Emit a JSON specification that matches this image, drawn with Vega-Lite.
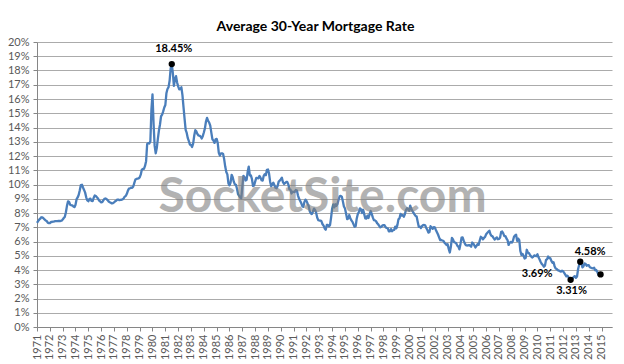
{
  "$schema": "https://vega.github.io/schema/vega-lite/v6.json",
  "width": 575,
  "height": 285,
  "autosize": {"type": "none"},
  "padding": {"left": 37, "top": 42, "right": 12, "bottom": 37},
  "background": "white",
  "config": {
    "view": {"stroke": null},
    "font": "Lato"
  },
  "title": {
    "text": "Average 30-Year Mortgage Rate",
    "font": "Lato",
    "fontSize": 14,
    "fontWeight": "bold",
    "color": "#000000",
    "anchor": "middle",
    "baseline": "alphabetic",
    "dx": -9,
    "dy": 9,
    "offset": 0
  },
  "datasets": {
    "rates": [
      {"t":1971.292,"r":7.31},{"t":1971.375,"r":7.43},{"t":1971.458,"r":7.53},{"t":1971.542,"r":7.60},{"t":1971.625,"r":7.70},{"t":1971.708,"r":7.69},{"t":1971.792,"r":7.63},{"t":1971.875,"r":7.55},{"t":1971.958,"r":7.48},
      {"t":1972.042,"r":7.44},{"t":1972.125,"r":7.32},{"t":1972.208,"r":7.29},{"t":1972.292,"r":7.29},{"t":1972.375,"r":7.37},{"t":1972.458,"r":7.37},{"t":1972.542,"r":7.40},{"t":1972.625,"r":7.40},{"t":1972.708,"r":7.43},{"t":1972.792,"r":7.43},{"t":1972.875,"r":7.43},{"t":1972.958,"r":7.44},
      {"t":1973.042,"r":7.44},{"t":1973.125,"r":7.44},{"t":1973.208,"r":7.46},{"t":1973.292,"r":7.54},{"t":1973.375,"r":7.65},{"t":1973.458,"r":7.73},{"t":1973.542,"r":8.05},{"t":1973.625,"r":8.50},{"t":1973.708,"r":8.82},{"t":1973.792,"r":8.77},{"t":1973.875,"r":8.58},{"t":1973.958,"r":8.54},
      {"t":1974.042,"r":8.54},{"t":1974.125,"r":8.46},{"t":1974.208,"r":8.41},{"t":1974.292,"r":8.58},{"t":1974.375,"r":8.97},{"t":1974.458,"r":9.09},{"t":1974.542,"r":9.28},{"t":1974.625,"r":9.59},{"t":1974.708,"r":9.96},{"t":1974.792,"r":9.98},{"t":1974.875,"r":9.79},{"t":1974.958,"r":9.62},
      {"t":1975.042,"r":9.43},{"t":1975.125,"r":9.10},{"t":1975.208,"r":8.89},{"t":1975.292,"r":8.83},{"t":1975.375,"r":8.99},{"t":1975.458,"r":9.00},{"t":1975.542,"r":8.85},{"t":1975.625,"r":8.84},{"t":1975.708,"r":9.07},{"t":1975.792,"r":9.23},{"t":1975.875,"r":9.19},{"t":1975.958,"r":9.11},
      {"t":1976.042,"r":9.02},{"t":1976.125,"r":8.87},{"t":1976.208,"r":8.82},{"t":1976.292,"r":8.75},{"t":1976.375,"r":8.76},{"t":1976.458,"r":8.88},{"t":1976.542,"r":8.99},{"t":1976.625,"r":9.02},{"t":1976.708,"r":8.98},{"t":1976.792,"r":8.91},{"t":1976.875,"r":8.81},{"t":1976.958,"r":8.76},
      {"t":1977.042,"r":8.72},{"t":1977.125,"r":8.67},{"t":1977.208,"r":8.69},{"t":1977.292,"r":8.75},{"t":1977.375,"r":8.82},{"t":1977.458,"r":8.86},{"t":1977.542,"r":8.94},{"t":1977.625,"r":8.94},{"t":1977.708,"r":8.90},{"t":1977.792,"r":8.92},{"t":1977.875,"r":8.93},{"t":1977.958,"r":8.96},
      {"t":1978.042,"r":9.02},{"t":1978.125,"r":9.15},{"t":1978.208,"r":9.20},{"t":1978.292,"r":9.35},{"t":1978.375,"r":9.57},{"t":1978.458,"r":9.71},{"t":1978.542,"r":9.74},{"t":1978.625,"r":9.78},{"t":1978.708,"r":9.76},{"t":1978.792,"r":9.86},{"t":1978.875,"r":10.11},{"t":1978.958,"r":10.35},
      {"t":1979.042,"r":10.39},{"t":1979.125,"r":10.41},{"t":1979.208,"r":10.43},{"t":1979.292,"r":10.50},{"t":1979.375,"r":10.69},{"t":1979.458,"r":11.04},{"t":1979.542,"r":11.09},{"t":1979.625,"r":11.09},{"t":1979.708,"r":11.30},{"t":1979.792,"r":11.64},{"t":1979.875,"r":12.83},{"t":1979.958,"r":12.90},
      {"t":1980.042,"r":12.88},{"t":1980.125,"r":13.04},{"t":1980.208,"r":15.28},{"t":1980.292,"r":16.32},{"t":1980.375,"r":14.26},{"t":1980.458,"r":12.71},{"t":1980.542,"r":12.19},{"t":1980.625,"r":12.56},{"t":1980.708,"r":13.20},{"t":1980.792,"r":13.79},{"t":1980.875,"r":14.21},{"t":1980.958,"r":14.79},
      {"t":1981.042,"r":14.90},{"t":1981.125,"r":15.13},{"t":1981.208,"r":15.40},{"t":1981.292,"r":15.58},{"t":1981.375,"r":16.40},{"t":1981.458,"r":16.70},{"t":1981.542,"r":16.83},{"t":1981.625,"r":17.28},{"t":1981.708,"r":18.16},{"t":1981.792,"r":18.45},{"t":1981.875,"r":17.83},{"t":1981.958,"r":16.92},
      {"t":1982.042,"r":17.40},{"t":1982.125,"r":17.60},{"t":1982.208,"r":17.16},{"t":1982.292,"r":16.89},{"t":1982.375,"r":16.68},{"t":1982.458,"r":16.70},{"t":1982.542,"r":16.82},{"t":1982.625,"r":16.27},{"t":1982.708,"r":15.43},{"t":1982.792,"r":14.61},{"t":1982.875,"r":13.83},{"t":1982.958,"r":13.62},
      {"t":1983.042,"r":13.25},{"t":1983.125,"r":13.04},{"t":1983.208,"r":12.80},{"t":1983.292,"r":12.78},{"t":1983.375,"r":12.63},{"t":1983.458,"r":12.87},{"t":1983.542,"r":13.42},{"t":1983.625,"r":13.81},{"t":1983.708,"r":13.73},{"t":1983.792,"r":13.54},{"t":1983.875,"r":13.44},{"t":1983.958,"r":13.42},
      {"t":1984.042,"r":13.37},{"t":1984.125,"r":13.23},{"t":1984.208,"r":13.39},{"t":1984.292,"r":13.65},{"t":1984.375,"r":13.94},{"t":1984.458,"r":14.42},{"t":1984.542,"r":14.67},{"t":1984.625,"r":14.47},{"t":1984.708,"r":14.35},{"t":1984.792,"r":14.13},{"t":1984.875,"r":13.64},{"t":1984.958,"r":13.18},
      {"t":1985.042,"r":13.08},{"t":1985.125,"r":12.92},{"t":1985.208,"r":13.17},{"t":1985.292,"r":13.20},{"t":1985.375,"r":12.91},{"t":1985.458,"r":12.22},{"t":1985.542,"r":12.03},{"t":1985.625,"r":12.19},{"t":1985.708,"r":12.19},{"t":1985.792,"r":12.14},{"t":1985.875,"r":11.78},{"t":1985.958,"r":11.26},
      {"t":1986.042,"r":10.88},{"t":1986.125,"r":10.71},{"t":1986.208,"r":10.08},{"t":1986.292,"r":9.94},{"t":1986.375,"r":10.14},{"t":1986.458,"r":10.68},{"t":1986.542,"r":10.51},{"t":1986.625,"r":10.20},{"t":1986.708,"r":10.01},{"t":1986.792,"r":9.98},{"t":1986.875,"r":9.70},{"t":1986.958,"r":9.32},
      {"t":1987.042,"r":9.20},{"t":1987.125,"r":9.08},{"t":1987.208,"r":9.04},{"t":1987.292,"r":9.83},{"t":1987.375,"r":10.60},{"t":1987.458,"r":10.54},{"t":1987.542,"r":10.28},{"t":1987.625,"r":10.33},{"t":1987.708,"r":10.89},{"t":1987.792,"r":11.26},{"t":1987.875,"r":10.65},{"t":1987.958,"r":10.64},
      {"t":1988.042,"r":10.38},{"t":1988.125,"r":9.89},{"t":1988.208,"r":9.93},{"t":1988.292,"r":10.20},{"t":1988.375,"r":10.46},{"t":1988.458,"r":10.46},{"t":1988.542,"r":10.43},{"t":1988.625,"r":10.60},{"t":1988.708,"r":10.48},{"t":1988.792,"r":10.30},{"t":1988.875,"r":10.27},{"t":1988.958,"r":10.61},
      {"t":1989.042,"r":10.73},{"t":1989.125,"r":10.65},{"t":1989.208,"r":11.03},{"t":1989.292,"r":11.05},{"t":1989.375,"r":10.77},{"t":1989.458,"r":10.20},{"t":1989.542,"r":9.88},{"t":1989.625,"r":9.99},{"t":1989.708,"r":10.13},{"t":1989.792,"r":9.95},{"t":1989.875,"r":9.77},{"t":1989.958,"r":9.74},
      {"t":1990.042,"r":9.90},{"t":1990.125,"r":10.20},{"t":1990.208,"r":10.27},{"t":1990.292,"r":10.37},{"t":1990.375,"r":10.48},{"t":1990.458,"r":10.16},{"t":1990.542,"r":10.04},{"t":1990.625,"r":10.10},{"t":1990.708,"r":10.18},{"t":1990.792,"r":10.18},{"t":1990.875,"r":10.01},{"t":1990.958,"r":9.67},
      {"t":1991.042,"r":9.64},{"t":1991.125,"r":9.37},{"t":1991.208,"r":9.50},{"t":1991.292,"r":9.49},{"t":1991.375,"r":9.47},{"t":1991.458,"r":9.62},{"t":1991.542,"r":9.58},{"t":1991.625,"r":9.24},{"t":1991.708,"r":9.01},{"t":1991.792,"r":8.86},{"t":1991.875,"r":8.71},{"t":1991.958,"r":8.50},
      {"t":1992.042,"r":8.43},{"t":1992.125,"r":8.76},{"t":1992.208,"r":8.94},{"t":1992.292,"r":8.85},{"t":1992.375,"r":8.67},{"t":1992.458,"r":8.51},{"t":1992.542,"r":8.13},{"t":1992.625,"r":7.98},{"t":1992.708,"r":7.92},{"t":1992.792,"r":8.09},{"t":1992.875,"r":8.31},{"t":1992.958,"r":8.22},
      {"t":1993.042,"r":8.02},{"t":1993.125,"r":7.68},{"t":1993.208,"r":7.50},{"t":1993.292,"r":7.47},{"t":1993.375,"r":7.47},{"t":1993.458,"r":7.42},{"t":1993.542,"r":7.21},{"t":1993.625,"r":7.11},{"t":1993.708,"r":6.92},{"t":1993.792,"r":6.83},{"t":1993.875,"r":7.16},{"t":1993.958,"r":7.17},
      {"t":1994.042,"r":7.06},{"t":1994.125,"r":7.15},{"t":1994.208,"r":7.68},{"t":1994.292,"r":8.32},{"t":1994.375,"r":8.60},{"t":1994.458,"r":8.40},{"t":1994.542,"r":8.61},{"t":1994.625,"r":8.51},{"t":1994.708,"r":8.64},{"t":1994.792,"r":8.93},{"t":1994.875,"r":9.17},{"t":1994.958,"r":9.20},
      {"t":1995.042,"r":9.15},{"t":1995.125,"r":8.83},{"t":1995.208,"r":8.46},{"t":1995.292,"r":8.32},{"t":1995.375,"r":7.96},{"t":1995.458,"r":7.57},{"t":1995.542,"r":7.61},{"t":1995.625,"r":7.86},{"t":1995.708,"r":7.64},{"t":1995.792,"r":7.48},{"t":1995.875,"r":7.38},{"t":1995.958,"r":7.20},
      {"t":1996.042,"r":7.03},{"t":1996.125,"r":7.08},{"t":1996.208,"r":7.62},{"t":1996.292,"r":7.93},{"t":1996.375,"r":8.07},{"t":1996.458,"r":8.32},{"t":1996.542,"r":8.25},{"t":1996.625,"r":8.00},{"t":1996.708,"r":8.23},{"t":1996.792,"r":7.92},{"t":1996.875,"r":7.62},{"t":1996.958,"r":7.60},
      {"t":1997.042,"r":7.82},{"t":1997.125,"r":7.65},{"t":1997.208,"r":7.90},{"t":1997.292,"r":8.14},{"t":1997.375,"r":7.94},{"t":1997.458,"r":7.69},{"t":1997.542,"r":7.50},{"t":1997.625,"r":7.48},{"t":1997.708,"r":7.43},{"t":1997.792,"r":7.29},{"t":1997.875,"r":7.21},{"t":1997.958,"r":7.10},
      {"t":1998.042,"r":6.99},{"t":1998.125,"r":7.04},{"t":1998.208,"r":7.13},{"t":1998.292,"r":7.14},{"t":1998.375,"r":7.14},{"t":1998.458,"r":7.00},{"t":1998.542,"r":6.95},{"t":1998.625,"r":6.92},{"t":1998.708,"r":6.72},{"t":1998.792,"r":6.71},{"t":1998.875,"r":6.87},{"t":1998.958,"r":6.72},
      {"t":1999.042,"r":6.79},{"t":1999.125,"r":6.81},{"t":1999.208,"r":7.04},{"t":1999.292,"r":6.92},{"t":1999.375,"r":7.15},{"t":1999.458,"r":7.55},{"t":1999.542,"r":7.63},{"t":1999.625,"r":7.94},{"t":1999.708,"r":7.82},{"t":1999.792,"r":7.85},{"t":1999.875,"r":7.74},{"t":1999.958,"r":7.91},
      {"t":2000.042,"r":8.21},{"t":2000.125,"r":8.33},{"t":2000.208,"r":8.24},{"t":2000.292,"r":8.15},{"t":2000.375,"r":8.52},{"t":2000.458,"r":8.29},{"t":2000.542,"r":8.15},{"t":2000.625,"r":8.03},{"t":2000.708,"r":7.91},{"t":2000.792,"r":7.80},{"t":2000.875,"r":7.75},{"t":2000.958,"r":7.38},
      {"t":2001.042,"r":7.03},{"t":2001.125,"r":7.05},{"t":2001.208,"r":6.95},{"t":2001.292,"r":7.08},{"t":2001.375,"r":7.15},{"t":2001.458,"r":7.16},{"t":2001.542,"r":7.13},{"t":2001.625,"r":6.95},{"t":2001.708,"r":6.82},{"t":2001.792,"r":6.62},{"t":2001.875,"r":6.66},{"t":2001.958,"r":7.07},
      {"t":2002.042,"r":7.00},{"t":2002.125,"r":6.89},{"t":2002.208,"r":7.01},{"t":2002.292,"r":6.99},{"t":2002.375,"r":6.81},{"t":2002.458,"r":6.65},{"t":2002.542,"r":6.49},{"t":2002.625,"r":6.29},{"t":2002.708,"r":6.09},{"t":2002.792,"r":6.11},{"t":2002.875,"r":6.07},{"t":2002.958,"r":6.05},
      {"t":2003.042,"r":5.92},{"t":2003.125,"r":5.84},{"t":2003.208,"r":5.75},{"t":2003.292,"r":5.81},{"t":2003.375,"r":5.48},{"t":2003.458,"r":5.23},{"t":2003.542,"r":5.63},{"t":2003.625,"r":6.26},{"t":2003.708,"r":6.15},{"t":2003.792,"r":5.95},{"t":2003.875,"r":5.93},{"t":2003.958,"r":5.88},
      {"t":2004.042,"r":5.71},{"t":2004.125,"r":5.64},{"t":2004.208,"r":5.45},{"t":2004.292,"r":5.83},{"t":2004.375,"r":6.27},{"t":2004.458,"r":6.29},{"t":2004.542,"r":6.06},{"t":2004.625,"r":5.87},{"t":2004.708,"r":5.75},{"t":2004.792,"r":5.72},{"t":2004.875,"r":5.73},{"t":2004.958,"r":5.75},
      {"t":2005.042,"r":5.71},{"t":2005.125,"r":5.63},{"t":2005.208,"r":5.93},{"t":2005.292,"r":5.86},{"t":2005.375,"r":5.72},{"t":2005.458,"r":5.58},{"t":2005.542,"r":5.70},{"t":2005.625,"r":5.82},{"t":2005.708,"r":5.77},{"t":2005.792,"r":6.07},{"t":2005.875,"r":6.33},{"t":2005.958,"r":6.27},
      {"t":2006.042,"r":6.15},{"t":2006.125,"r":6.25},{"t":2006.208,"r":6.32},{"t":2006.292,"r":6.51},{"t":2006.375,"r":6.60},{"t":2006.458,"r":6.68},{"t":2006.542,"r":6.76},{"t":2006.625,"r":6.52},{"t":2006.708,"r":6.40},{"t":2006.792,"r":6.36},{"t":2006.875,"r":6.24},{"t":2006.958,"r":6.14},
      {"t":2007.042,"r":6.22},{"t":2007.125,"r":6.29},{"t":2007.208,"r":6.16},{"t":2007.292,"r":6.18},{"t":2007.375,"r":6.26},{"t":2007.458,"r":6.66},{"t":2007.542,"r":6.70},{"t":2007.625,"r":6.57},{"t":2007.708,"r":6.38},{"t":2007.792,"r":6.38},{"t":2007.875,"r":6.21},{"t":2007.958,"r":6.10},
      {"t":2008.042,"r":5.76},{"t":2008.125,"r":5.92},{"t":2008.208,"r":5.97},{"t":2008.292,"r":5.92},{"t":2008.375,"r":6.04},{"t":2008.458,"r":6.32},{"t":2008.542,"r":6.43},{"t":2008.625,"r":6.48},{"t":2008.708,"r":6.04},{"t":2008.792,"r":6.20},{"t":2008.875,"r":6.09},{"t":2008.958,"r":5.33},
      {"t":2009.042,"r":5.06},{"t":2009.125,"r":5.13},{"t":2009.208,"r":5.00},{"t":2009.292,"r":4.81},{"t":2009.375,"r":4.86},{"t":2009.458,"r":5.42},{"t":2009.542,"r":5.22},{"t":2009.625,"r":5.19},{"t":2009.708,"r":5.06},{"t":2009.792,"r":4.95},{"t":2009.875,"r":4.88},{"t":2009.958,"r":4.93},
      {"t":2010.042,"r":5.03},{"t":2010.125,"r":4.99},{"t":2010.208,"r":4.97},{"t":2010.292,"r":5.10},{"t":2010.375,"r":4.89},{"t":2010.458,"r":4.74},{"t":2010.542,"r":4.56},{"t":2010.625,"r":4.43},{"t":2010.708,"r":4.35},{"t":2010.792,"r":4.23},{"t":2010.875,"r":4.30},{"t":2010.958,"r":4.71},
      {"t":2011.042,"r":4.76},{"t":2011.125,"r":4.95},{"t":2011.208,"r":4.84},{"t":2011.292,"r":4.84},{"t":2011.375,"r":4.64},{"t":2011.458,"r":4.51},{"t":2011.542,"r":4.55},{"t":2011.625,"r":4.27},{"t":2011.708,"r":4.11},{"t":2011.792,"r":4.07},{"t":2011.875,"r":3.99},{"t":2011.958,"r":3.96},
      {"t":2012.042,"r":3.92},{"t":2012.125,"r":3.89},{"t":2012.208,"r":3.95},{"t":2012.292,"r":3.91},{"t":2012.375,"r":3.80},{"t":2012.458,"r":3.68},{"t":2012.542,"r":3.55},{"t":2012.625,"r":3.60},{"t":2012.708,"r":3.50},{"t":2012.792,"r":3.38},{"t":2012.875,"r":3.31},{"t":2012.958,"r":3.35},
      {"t":2013.042,"r":3.41},{"t":2013.125,"r":3.53},{"t":2013.208,"r":3.57},{"t":2013.292,"r":3.45},{"t":2013.375,"r":3.54},{"t":2013.458,"r":4.07},{"t":2013.542,"r":4.37},{"t":2013.625,"r":4.58},{"t":2013.708,"r":4.49},{"t":2013.792,"r":4.19},{"t":2013.875,"r":4.26},{"t":2013.958,"r":4.46},
      {"t":2014.042,"r":4.43},{"t":2014.125,"r":4.30},{"t":2014.208,"r":4.34},{"t":2014.292,"r":4.34},{"t":2014.375,"r":4.19},{"t":2014.458,"r":4.16},{"t":2014.542,"r":4.13},{"t":2014.625,"r":4.12},{"t":2014.708,"r":4.16},{"t":2014.792,"r":3.98},{"t":2014.875,"r":4.00},{"t":2014.958,"r":3.86},
      {"t":2015.042,"r":3.67},{"t":2015.125,"r":3.71},{"t":2015.208,"r":3.69}
    ],
    "ann": [
      {"t":1981.792,"r":18.45,"label":"18.45%"},
      {"t":2012.875,"r":3.31,"label":"3.31%"},
      {"t":2013.625,"r":4.58,"label":"4.58%"},
      {"t":2015.208,"r":3.69,"label":"3.69%"}
    ],
    "wm": [
      {"t":1993.54,"r":8.09,"label":"SocketSite.com"}
    ]
  },
  "encoding": {
    "x": {
      "field": "t",
      "type": "quantitative",
      "scale": {"domain": [1971.29, 2016.1], "nice": false, "zero": false},
      "axis": {
        "title": null,
        "grid": false,
        "values": [1971.29,1972.29,1973.29,1974.29,1975.29,1976.29,1977.29,1978.29,1979.29,1980.29,1981.29,1982.29,1983.29,1984.29,1985.29,1986.29,1987.29,1988.29,1989.29,1990.29,1991.29,1992.29,1993.29,1994.29,1995.29,1996.29,1997.29,1998.29,1999.29,2000.29,2001.29,2002.29,2003.29,2004.29,2005.29,2006.29,2007.29,2008.29,2009.29,2010.29,2011.29,2012.29,2013.29,2014.29,2015.29],
        "labelExpr": "floor(datum.value)",
        "labelAngle": -90,
        "labelAlign": "right",
        "labelBaseline": "middle",
        "labelFont": "Lato",
        "labelFontSize": 11,
        "labelColor": "#595959",
        "labelPadding": 3,
        "labelOverlap": false,
        "labelFlush": false,
        "domainColor": "#868686",
        "tickColor": "#868686",
        "tickSize": 4
      }
    },
    "y": {
      "field": "r",
      "type": "quantitative",
      "scale": {"domain": [0, 20], "nice": false},
      "axis": {
        "title": null,
        "values": [0,1,2,3,4,5,6,7,8,9,10,11,12,13,14,15,16,17,18,19,20],
        "labelExpr": "datum.value + '%'",
        "labelFont": "Lato",
        "labelFontSize": 11,
        "labelColor": "#595959",
        "labelPadding": 4,
        "labelOverlap": false,
        "labelFlush": false,
        "grid": true,
        "gridColor": "#ababab",
        "gridWidth": 1,
        "domainColor": "#868686",
        "tickColor": "#868686",
        "tickSize": 4
      }
    }
  },
  "layer": [
    {
      "data": {"name": "rates"},
      "mark": {"type": "line", "color": "#4a7ebb", "strokeWidth": 2.3, "strokeJoin": "round"}
    },
    {
      "data": {"name": "wm"},
      "mark": {"type": "text", "font": "Lato", "fontWeight": "bold", "fontSize": 48, "fill": "#7f7f7f", "opacity": 0.6, "align": "center", "baseline": "alphabetic"},
      "encoding": {
        "text": {"field": "label"}
      }
    },
    {
      "data": {"name": "ann"},
      "mark": {"type": "circle", "color": "#000000", "size": 40, "opacity": 1}
    },
    {
      "data": {"name": "ann"},
      "transform": [{"filter": "datum.label == '18.45%'"}],
      "mark": {"type": "text", "font": "Lato", "fontWeight": "bold", "fontSize": 11, "color": "#000000", "align": "center", "baseline": "middle", "dx": 2, "dy": -15},
      "encoding": {"text": {"field": "label"}}
    },
    {
      "data": {"name": "ann"},
      "transform": [{"filter": "datum.label == '3.31%'"}],
      "mark": {"type": "text", "font": "Lato", "fontWeight": "bold", "fontSize": 11, "color": "#000000", "align": "center", "baseline": "middle", "dx": 1, "dy": 11},
      "encoding": {"text": {"field": "label"}}
    },
    {
      "data": {"name": "ann"},
      "transform": [{"filter": "datum.label == '4.58%'"}],
      "mark": {"type": "text", "font": "Lato", "fontWeight": "bold", "fontSize": 11, "color": "#000000", "align": "center", "baseline": "middle", "dx": 10, "dy": -10},
      "encoding": {"text": {"field": "label"}}
    },
    {
      "data": {"name": "ann"},
      "transform": [{"filter": "datum.label == '3.69%'"}],
      "mark": {"type": "text", "font": "Lato", "fontWeight": "bold", "fontSize": 11, "color": "#000000", "align": "right", "baseline": "middle", "dx": -48, "dy": 0},
      "encoding": {"text": {"field": "label"}}
    }
  ]
}
